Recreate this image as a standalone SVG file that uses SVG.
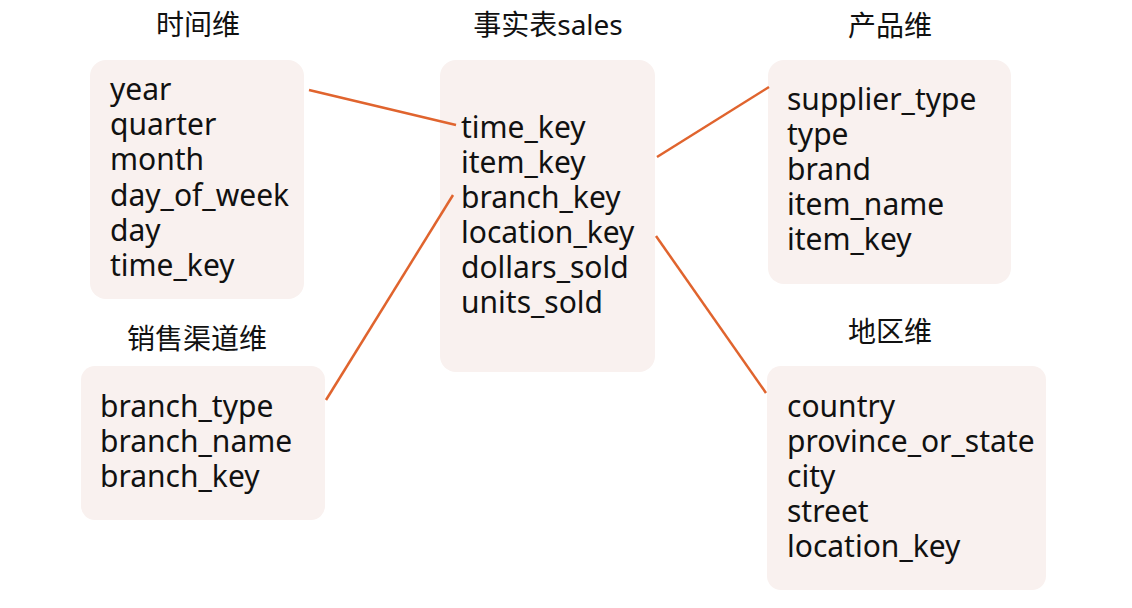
<svg xmlns="http://www.w3.org/2000/svg" width="1132" height="608" viewBox="0 0 1132 608">
<style>
.box{fill:#F9F1EF;}
.t{font-family:"Noto Sans","Noto Sans CJK SC",sans-serif;font-size:30px;fill:#111;}
.h{font-family:"Noto Sans","Noto Sans CJK SC",sans-serif;font-size:28px;fill:#111;text-anchor:middle;}
.c{stroke:#E0642E;stroke-width:2.5;fill:none;}
</style>
<rect width="1132" height="608" fill="#fff"/>
<g id="time">
<text class="h" x="198" y="35">时间维</text>
<rect class="box" x="90" y="60" width="214" height="239" rx="16"/>
<text class="t" x="110" y="100">year</text>
<text class="t" x="110" y="135">quarter</text>
<text class="t" x="110" y="170">month</text>
<text class="t" x="110" y="206">day_of_week</text>
<text class="t" x="110" y="241">day</text>
<text class="t" x="110" y="276">time_key</text>
</g>
<g id="sales">
<text class="h" x="548" y="35">事实表sales</text>
<rect class="box" x="440" y="60" width="215" height="312" rx="16"/>
<text class="t" x="461" y="138">time_key</text>
<text class="t" x="461" y="173">item_key</text>
<text class="t" x="461" y="208">branch_key</text>
<text class="t" x="461" y="243">location_key</text>
<text class="t" x="461" y="278">dollars_sold</text>
<text class="t" x="461" y="313">units_sold</text>
</g>
<g id="product">
<text class="h" x="890" y="36">产品维</text>
<rect class="box" x="768" y="60" width="243" height="224" rx="16"/>
<text class="t" x="787" y="110">supplier_type</text>
<text class="t" x="787" y="145">type</text>
<text class="t" x="787" y="180">brand</text>
<text class="t" x="787" y="215">item_name</text>
<text class="t" x="787" y="250">item_key</text>
</g>
<g id="branch">
<text class="h" x="197" y="349">销售渠道维</text>
<rect class="box" x="81" y="366" width="244" height="154" rx="14"/>
<text class="t" x="100" y="417">branch_type</text>
<text class="t" x="100" y="452">branch_name</text>
<text class="t" x="100" y="487">branch_key</text>
</g>
<g id="location">
<text class="h" x="890" y="342">地区维</text>
<rect class="box" x="767" y="366" width="279" height="224" rx="14"/>
<text class="t" x="787" y="417">country</text>
<text class="t" x="787" y="452">province_or_state</text>
<text class="t" x="787" y="487">city</text>
<text class="t" x="787" y="522">street</text>
<text class="t" x="787" y="557">location_key</text>
</g>
<g id="connectors">
<line class="c" x1="309" y1="90" x2="456" y2="125"/>
<line class="c" x1="453" y1="195" x2="326" y2="400"/>
<line class="c" x1="657" y1="157" x2="769" y2="87"/>
<line class="c" x1="656" y1="236" x2="766" y2="393"/>
</g>
</svg>
